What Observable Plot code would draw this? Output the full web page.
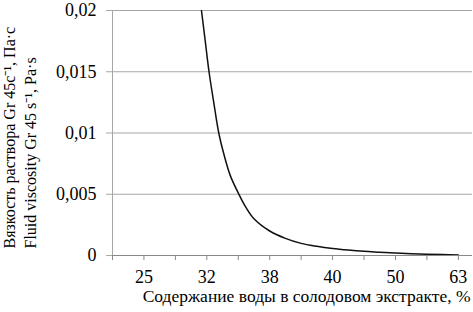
<!DOCTYPE html>
<html><head><meta charset="utf-8">
<script src="https://cdn.jsdelivr.net/npm/d3@7"></script>
<script src="https://cdn.jsdelivr.net/npm/@observablehq/plot@0.6"></script>
<style>
body{margin:0;background:#fff}
svg{display:block}
</style>
</head><body><div id="chart"></div>
<script>
const tickPositions = [0,1,2,3,4,5,6,7,8,9,10,11];
const labelPositions = [1, 3, 5, 7, 9, 11];
const xTickLabels = ["25", "32", "38", "40", "50", "63"];
const yTicks = [0, 0.005, 0.01, 0.015, 0.02];
const yTickLabels = ["0", "0,005", "0,01", "0,015", "0,02"];
const curvePos = [2.83, 2.95, 3.07, 3.22, 3.38, 3.55, 3.75, 4.02, 4.25, 4.5, 5.0, 5.5, 6.0, 6.5, 7.0, 7.5, 8.0, 8.5, 9.0, 9.5, 10.0, 10.5, 11.0];
const viscosity = [0.02, 0.0175, 0.015, 0.0125, 0.010, 0.0082, 0.0065, 0.005, 0.0039, 0.0030, 0.0020, 0.0014, 0.00099, 0.00075, 0.00057, 0.00044, 0.00034, 0.00027, 0.0002, 0.00015, 0.00011, 0.00008, 0.00005];
const xTitle = "Содержание воды в солодовом экстракте, %";
const yTitle1 = "Вязкость раствора Gr 45с⁻¹, Па·с";
const yTitle2 = "Fluid viscosity Gr 45 s⁻¹, Pa·s";
const data = curvePos.map((p, i) => ({p, v: viscosity[i]}));
const serif = "Liberation Serif";

const chart = Plot.plot({
  width: 473, height: 312,
  marginLeft: 112, marginRight: 1, marginTop: 10, marginBottom: 57,
  style: {fontFamily: serif, fontSize: "16px", background: "#fff", color: "#000", overflow: "visible"},
  x: {domain: [0, 11.45]},
  y: {domain: [0, 0.02]},
  marks: [
    Plot.ruleY(yTicks, {stroke: "#a6a6a6", strokeWidth: 1}),
    Plot.ruleX([0], {stroke: "#a6a6a6"}),
    Plot.axisY({ticks: yTicks, text: null, tickSize: 6, stroke: "#a6a6a6", label: null}),
    Plot.axisX({ticks: tickPositions, text: null, tickSize: 5, stroke: "#888", label: null}),
    Plot.text(yTicks, {y: d => d, text: (d, i) => yTickLabels[i], frameAnchor: "left", textAnchor: "end", dx: -16, fontSize: 18, fontFamily: serif, fill: "#000"}),
    Plot.text(labelPositions, {x: d => d, text: (d, i) => xTickLabels[i], frameAnchor: "bottom", lineAnchor: "top", dy: 15, fontSize: 18, fontFamily: serif, fill: "#000"}),
    Plot.ruleY([0], {stroke: "#888"}),
    Plot.line(data, {x: "p", y: "v", stroke: "#111", strokeWidth: 1.5, curve: "catmull-rom", clip: true}),
    Plot.text([xTitle], {frameAnchor: "bottom-right", textAnchor: "end", dx: -2, dy: 46, fontSize: 17.5, fontFamily: serif}),
    Plot.text([yTitle1], {frameAnchor: "bottom-left", rotate: -90, textAnchor: "start", dx: -98, dy: -7, fontSize: 16, fontFamily: serif}),
    Plot.text([yTitle2], {frameAnchor: "bottom-left", rotate: -90, textAnchor: "start", dx: -77, dy: -7, fontSize: 16, fontFamily: serif})
  ]
});
document.getElementById("chart").appendChild(chart);
</script>
</body></html>
